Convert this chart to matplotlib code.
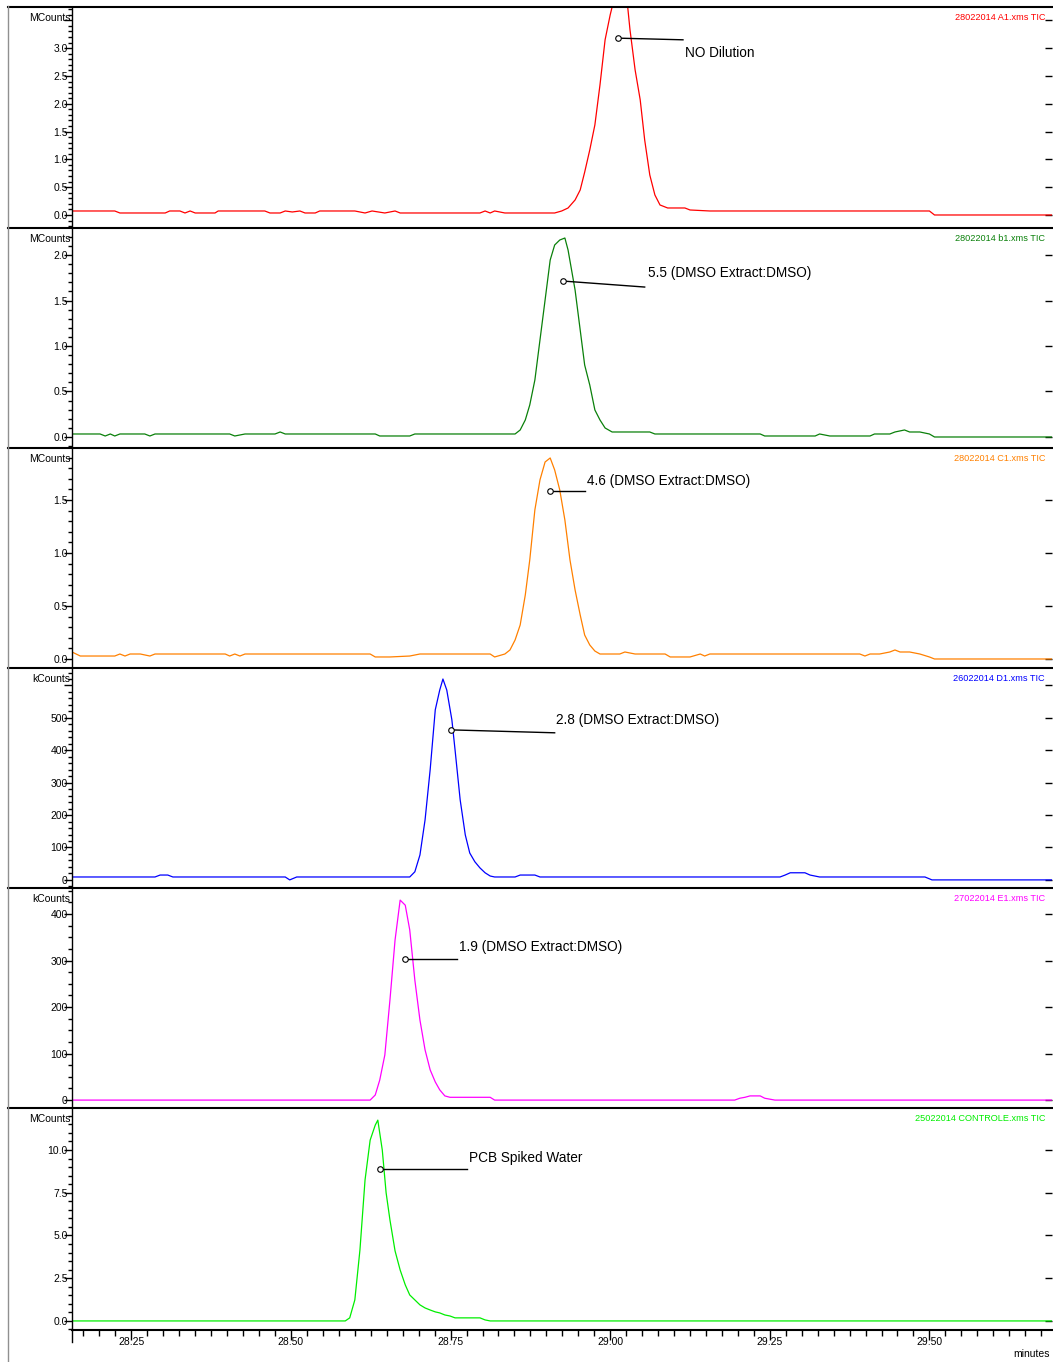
import matplotlib
matplotlib.use('Agg')
import matplotlib.pyplot as plt
from matplotlib.ticker import MultipleLocator, FuncFormatter, NullLocator
from matplotlib import font_manager
from matplotlib.lines import Line2D

names = {f.name for f in font_manager.fontManager.ttflist}
NARROW = 'Liberation Sans Narrow' in names
FONT = 'Liberation Sans Narrow' if NARROW else 'Liberation Sans'
plt.rcParams['font.family'] = [FONT, 'DejaVu Sans']

# ---------------- data (time in minutes, intensity) ----------------
t_a1 = [28.157, 28.224, 28.232, 28.303, 28.310, 28.326, 28.334, 28.342, 28.350, 28.381, 28.386,
        28.459, 28.467, 28.483, 28.491, 28.502, 28.514, 28.522, 28.538, 28.545, 28.600, 28.616,
        28.627, 28.647, 28.663, 28.671, 28.679, 28.796, 28.804, 28.812, 28.819, 28.835, 28.913,
        28.924, 28.934, 28.945, 28.953, 28.960, 28.968, 28.976, 28.984, 28.992, 29.000, 29.006,
        29.012, 29.019, 29.026, 29.031, 29.039, 29.047, 29.054, 29.062, 29.070, 29.078, 29.090,
        29.117, 29.125, 29.156, 29.500, 29.508, 29.693]
v_a1 = [0.072, 0.072, 0.036, 0.036, 0.072, 0.072, 0.036, 0.072, 0.036, 0.036, 0.072,
        0.072, 0.036, 0.036, 0.072, 0.054, 0.072, 0.036, 0.036, 0.072, 0.072, 0.036,
        0.072, 0.036, 0.072, 0.036, 0.036, 0.036, 0.072, 0.036, 0.072, 0.036, 0.036,
        0.072, 0.126, 0.270, 0.450, 0.770, 1.170, 1.620, 2.340, 3.150, 3.600, 3.880,
        3.900, 3.800, 3.900, 3.330, 2.610, 2.070, 1.350, 0.720, 0.360, 0.180, 0.126,
        0.126, 0.090, 0.072, 0.072, 0.0, 0.0]

t_b1 = [28.157, 28.201, 28.209, 28.217, 28.224, 28.232, 28.271, 28.279, 28.287, 28.404, 28.412,
        28.428, 28.475, 28.483, 28.491, 28.632, 28.639, 28.655, 28.686, 28.694, 28.851, 28.859,
        28.867, 28.874, 28.882, 28.890, 28.898, 28.906, 28.913, 28.921, 28.929, 28.934, 28.945,
        28.953, 28.960, 28.968, 28.976, 28.984, 28.992, 29.003, 29.062, 29.070, 29.235, 29.242,
        29.321, 29.328, 29.344, 29.407, 29.414, 29.438, 29.446, 29.461, 29.469, 29.485, 29.500,
        29.508, 29.693]
v_b1 = [0.033, 0.033, 0.011, 0.033, 0.011, 0.033, 0.033, 0.011, 0.033, 0.033, 0.011,
        0.033, 0.033, 0.055, 0.033, 0.033, 0.011, 0.011, 0.011, 0.033, 0.033, 0.077,
        0.187, 0.352, 0.626, 1.066, 1.505, 1.945, 2.110, 2.165, 2.187, 2.055, 1.615,
        1.176, 0.791, 0.571, 0.297, 0.187, 0.099, 0.055, 0.055, 0.033, 0.033, 0.011,
        0.011, 0.033, 0.011, 0.011, 0.033, 0.033, 0.055, 0.077, 0.055, 0.055, 0.033,
        0.0, 0.0]

t_c1 = [28.157, 28.170, 28.224, 28.232, 28.240, 28.248, 28.264, 28.279, 28.287, 28.397, 28.404,
        28.412, 28.420, 28.428, 28.624, 28.632, 28.655, 28.686, 28.702, 28.812, 28.819, 28.835,
        28.843, 28.851, 28.859, 28.867, 28.874, 28.882, 28.890, 28.898, 28.906, 28.913, 28.921,
        28.929, 28.937, 28.945, 28.953, 28.960, 28.968, 28.976, 28.984, 29.015, 29.023, 29.039,
        29.086, 29.094, 29.125, 29.141, 29.148, 29.156, 29.391, 29.399, 29.407, 29.422, 29.438,
        29.446, 29.454, 29.469, 29.485, 29.500, 29.508, 29.693]
v_c1 = [0.066, 0.028, 0.028, 0.047, 0.028, 0.047, 0.047, 0.028, 0.047, 0.047, 0.028,
        0.047, 0.028, 0.047, 0.047, 0.019, 0.019, 0.028, 0.047, 0.047, 0.019, 0.047,
        0.085, 0.179, 0.321, 0.604, 0.934, 1.406, 1.689, 1.858, 1.896, 1.783, 1.594,
        1.311, 0.934, 0.651, 0.415, 0.226, 0.132, 0.075, 0.047, 0.047, 0.066, 0.047,
        0.047, 0.019, 0.019, 0.047, 0.028, 0.047, 0.047, 0.028, 0.047, 0.047, 0.066,
        0.085, 0.066, 0.066, 0.047, 0.019, 0.0, 0.0]

t_d1 = [28.157, 28.287, 28.295, 28.307, 28.315, 28.491, 28.498, 28.509, 28.686, 28.694, 28.702,
        28.710, 28.718, 28.726, 28.733, 28.738, 28.744, 28.752, 28.757, 28.765, 28.773, 28.780,
        28.788, 28.796, 28.804, 28.812, 28.819, 28.851, 28.859, 28.882, 28.890, 29.266, 29.274,
        29.282, 29.305, 29.313, 29.328, 29.493, 29.504, 29.693]
v_d1 = [9, 9, 15, 15, 9, 9, 0, 9, 9, 25, 77,
        185, 340, 525, 586, 620, 586, 494, 401, 247, 139, 83,
        56, 37, 22, 12, 9, 9, 15, 15, 9, 9, 15,
        22, 22, 15, 9, 9, 0, 0]

t_e1 = [28.157, 28.624, 28.632, 28.639, 28.647, 28.655, 28.663, 28.671, 28.679, 28.686, 28.694,
        28.702, 28.710, 28.718, 28.726, 28.733, 28.741, 28.749, 28.812, 28.819, 29.195, 29.203,
        29.211, 29.219, 29.235, 29.242, 29.258, 29.693]
v_e1 = [0, 0, 11, 43, 97, 215, 344, 430, 419, 366, 258,
        172, 108, 65, 39, 22, 9, 6, 6, 0, 0, 4,
        6, 9, 9, 4, 0, 0]

t_ctl = [28.157, 28.585, 28.592, 28.600, 28.608, 28.616, 28.624, 28.632, 28.636, 28.643, 28.649,
         28.655, 28.663, 28.671, 28.679, 28.686, 28.694, 28.702, 28.710, 28.718, 28.726, 28.733,
         28.741, 28.749, 28.757, 28.796, 28.804, 28.812, 29.693]
v_ctl = [0, 0, 0.18, 1.23, 4.15, 8.25, 10.58, 11.46, 11.75, 10.0, 7.5,
         5.91, 4.1, 2.98, 2.11, 1.52, 1.23, 0.94, 0.76, 0.64, 0.53, 0.47,
         0.35, 0.29, 0.18, 0.18, 0.06, 0.0, 0.0]

files = ['28022014 A1.xms TIC', '28022014 b1.xms TIC', '28022014 C1.xms TIC',
         '26022014 D1.xms TIC', '27022014 E1.xms TIC', '25022014 CONTROLE.xms TIC']
units = ['MCounts', 'MCounts', 'MCounts', 'kCounts', 'kCounts', 'MCounts']
labels = ['NO Dilution', '5.5 (DMSO Extract:DMSO)', '4.6 (DMSO Extract:DMSO)',
          '2.8 (DMSO Extract:DMSO)', '1.9 (DMSO Extract:DMSO)', 'PCB Spiked Water']
# annotation anchor (marker) and leader-line end, in data units
mark_t = [29.012, 28.926, 28.906, 28.751, 28.679, 28.639]
mark_v = [3.18, 1.714, 1.585, 463, 303, 8.89]
end_t = [29.114, 29.054, 28.960, 28.913, 28.760, 28.776]
end_v = [3.15, 1.648, 1.585, 454, 303, 8.89]

x_ticks = [28.25, 28.50, 28.75, 29.00, 29.25, 29.50]

traces = [(t_a1, v_a1), (t_b1, v_b1), (t_c1, v_c1), (t_d1, v_d1), (t_e1, v_e1), (t_ctl, v_ctl)]

# ---------------- styling / layout ----------------
colors = ['#ff0000', '#0a800a', '#ff8000', '#0000ff', '#ff00ff', '#00ee00']
ylims = [(-0.234, 3.74), (-0.121, 2.297), (-0.085, 1.99), (-25, 654), (-17, 456), (-0.53, 12.46)]
majors = [0.5, 0.5, 0.5, 100, 100, 2.5]
minors = [0.1, 0.1, 0.1, 20, 25, 0.5]
label_max = [3.0, 2.0, 1.5, 500, 400, 10.0]
fmts = ['{:.1f}', '{:.1f}', '{:.1f}', '{:.0f}', '{:.0f}', '{:.1f}']
text_off = [(1.4, -9.4), (2.2, 10), (1.4, 7.2), (0.7, 9.4), (1.4, 8.6), (1.4, 7.9)]
tops = [7, 228, 448, 668, 888, 1108]
bots = [228, 448, 668, 888, 1108, 1330]
XLIM = (28.157, 29.692)

W, H = 1053, 1362
if NARROW:
    fs_ann, fs_tick, fs_file = 11.5, 8, 7.2
else:
    fs_ann, fs_tick, fs_file = 9.8, 7.5, 6.6

fig = plt.figure(figsize=(W / 100, H / 100), dpi=100)
L = 72 / W
R = 1052 / W

for i in range(6):
    ax = fig.add_axes([L, 1 - bots[i] / H, R - L, (bots[i] - tops[i]) / H])
    t, v = traces[i]
    ax.plot(t, v, color=colors[i], lw=0.9)
    ax.set_xlim(*XLIM)
    ax.set_ylim(*ylims[i])
    for s in ['top', 'right', 'bottom']:
        ax.spines[s].set_visible(False)
    ax.spines['left'].set_linewidth(1.0)
    ax.yaxis.set_major_locator(MultipleLocator(majors[i]))
    ax.yaxis.set_minor_locator(MultipleLocator(minors[i]))
    lm, f = label_max[i], fmts[i]
    ax.yaxis.set_major_formatter(FuncFormatter(
        lambda val, pos, lm=lm, f=f: f.format(abs(val) if abs(val) < 1e-9 else val) if val <= lm + 1e-9 else ''))
    ax.tick_params(axis='y', which='major', direction='out', length=5.5, width=1, pad=-2.5,
                   labelsize=fs_tick)
    ax.tick_params(axis='y', which='minor', direction='out', length=3, width=1)
    sec = ax.secondary_yaxis('right')
    sec.yaxis.set_major_locator(MultipleLocator(majors[i]))
    sec.yaxis.set_minor_locator(NullLocator())
    sec.tick_params(axis='y', direction='in', length=5, width=1, labelright=False)
    sec.spines['right'].set_visible(False)

    # unit label at top-left
    ax.annotate(units[i], xy=(0, 1), xycoords='axes fraction', xytext=(-1, -8),
                textcoords='offset points', ha='right', va='center', fontsize=fs_tick)
    # file label top right
    ax.annotate(files[i], xy=(1, 1), xycoords='axes fraction', xytext=(-5, -7.5),
                textcoords='offset points', ha='right', va='center', fontsize=fs_file,
                color=colors[i])
    # peak annotation
    ax.plot([mark_t[i], end_t[i]], [mark_v[i], end_v[i]], color='black', lw=1.0)
    ax.plot([mark_t[i]], [mark_v[i]], marker='o', ms=4, mfc='white', mec='black', mew=0.8,
            ls='none')
    ax.annotate(labels[i], xy=(end_t[i], end_v[i]), xytext=text_off[i],
                textcoords='offset points', ha='left', va='center', fontsize=fs_ann)

    if i < 5:
        ax.tick_params(axis='x', which='both', bottom=False, labelbottom=False)
    else:
        ax.spines['bottom'].set_visible(True)
        ax.spines['bottom'].set_linewidth(1.5)
        ax.set_xticks(x_ticks)
        ax.xaxis.set_major_formatter(FuncFormatter(lambda val, pos: '{:.2f}'.format(val)))
        ax.xaxis.set_minor_locator(MultipleLocator(0.025))
        ax.tick_params(axis='x', which='major', direction='out', length=7, width=1, pad=-2,
                       labelsize=fs_tick)
        ax.tick_params(axis='x', which='minor', direction='out', length=4, width=1)

# frame lines
for ty in tops:
    fig.add_artist(Line2D([8 / W, 1.0], [1 - ty / H, 1 - ty / H], color='black', lw=1.5))
fig.add_artist(Line2D([8 / W, 8 / W], [1 - 6 / H, 0], color='#909090', lw=1.0))
fig.add_artist(Line2D([L, L], [1 - 1330 / H, 1 - 1342 / H], color='black', lw=1.0))
fig.text(1050 / W, 1 - 1354 / H, 'minutes', ha='right', va='center', fontsize=fs_tick)

fig.savefig('out.png', dpi=100)
